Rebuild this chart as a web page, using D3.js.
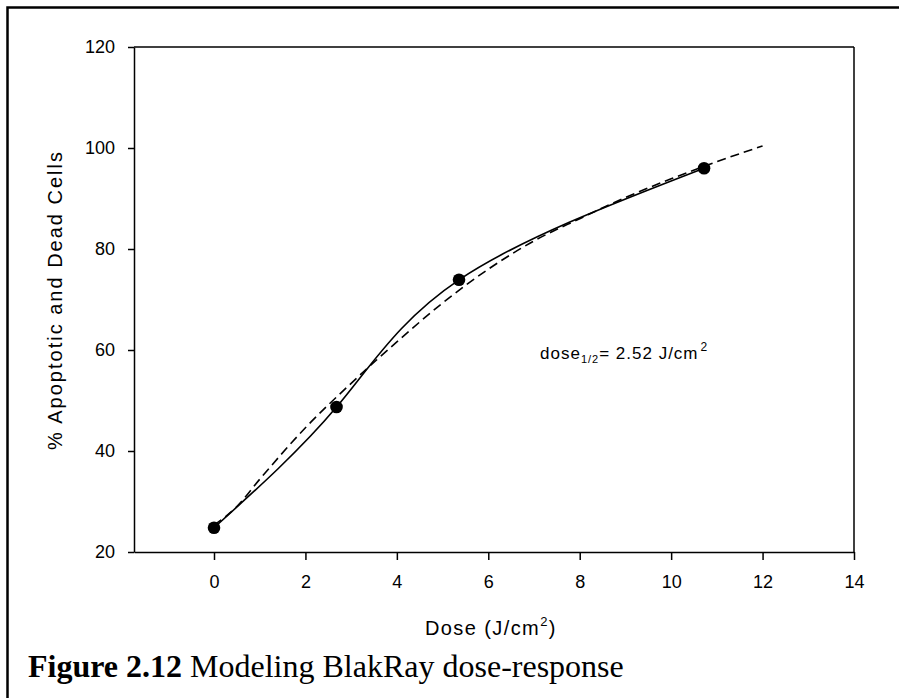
<!DOCTYPE html>
<html><head><meta charset="utf-8">
<script src="https://cdn.jsdelivr.net/npm/d3@7"></script>
<style>body{margin:0;background:#fff} svg{display:block}</style>
</head><body>
<svg id="c" width="899" height="698"></svg>
<script>
// ---- data ----
const doseData = [0, 2.68, 5.36, 10.72];
const responseData = [24.8, 48.7, 73.9, 96.0];
const fitDose = [0, 0.5, 1, 2, 3, 4, 5, 6, 7, 8, 9, 10, 11, 12];
const fitResponse = [25.3, 29.0, 34.4, 44.6, 53.4, 61.6, 69.3, 76.0, 81.6, 86.0, 90.2, 93.9, 97.3, 100.4];
const xTicks = [0, 2, 4, 6, 8, 10, 12, 14];
const yTicks = [20, 40, 60, 80, 100, 120];
const xDomain = [-1.75, 14];
const yDomain = [20, 120];

const svg = d3.select("#c");
const sans = "'Liberation Sans', Arial, sans-serif";
const serif = "'Liberation Serif', 'Times New Roman', serif";

svg.append("rect").attr("width", 899).attr("height", 698).attr("fill", "#fff");
// outer figure border
svg.append("rect").attr("x", 7.5).attr("y", 7.5).attr("width", 1000).attr("height", 1000)
  .attr("fill", "none").attr("stroke", "#000").attr("stroke-width", 2.5);

const L = 134, R = 854, T = 47, B = 552;
const x = d3.scaleLinear().domain(xDomain).range([L, R]);
const y = d3.scaleLinear().domain(yDomain).range([B, T]);

// frame top & right
svg.append("line").attr("x1", L).attr("x2", R).attr("y1", T).attr("y2", T).attr("stroke", "#000").attr("stroke-width", 1.5);
svg.append("line").attr("x1", R).attr("x2", R).attr("y1", T).attr("y2", B).attr("stroke", "#000").attr("stroke-width", 1.5);

const xAxis = svg.append("g").attr("transform", `translate(0,${B})`)
  .call(d3.axisBottom(x).tickValues(xTicks).tickSize(8).tickSizeOuter(0).tickPadding(15).tickFormat(d3.format("d")));
const yAxis = svg.append("g").attr("transform", `translate(${L},0)`)
  .call(d3.axisLeft(y).tickValues(yTicks).tickSize(6).tickSizeOuter(0).tickPadding(13).tickFormat(d3.format("d")));
[xAxis, yAxis].forEach(g => {
  g.selectAll("path, line").attr("stroke", "#000").attr("stroke-width", 1.5);
  g.selectAll("text").attr("font-family", sans).attr("font-size", 18).attr("fill", "#000");
});

// fitted curve (dashed)
const fitPts = fitDose.map((d, i) => [d, fitResponse[i]]);
svg.append("path").datum(fitPts)
  .attr("d", d3.line().x(d => x(d[0])).y(d => y(d[1])).curve(d3.curveMonotoneX))
  .attr("fill", "none").attr("stroke", "#000").attr("stroke-width", 1.6).attr("stroke-dasharray", "9,5");

// data spline (solid)
const pts = doseData.map((d, i) => [d, responseData[i]]);
svg.append("path").datum(pts)
  .attr("d", d3.line().x(d => x(d[0])).y(d => y(d[1])).curve(d3.curveNatural))
  .attr("fill", "none").attr("stroke", "#000").attr("stroke-width", 1.6);

svg.selectAll("circle.pt").data(pts).enter().append("circle")
  .attr("cx", d => x(d[0])).attr("cy", d => y(d[1])).attr("r", 6.3).attr("fill", "#000");

// axis titles
const xt = svg.append("text").attr("x", 425).attr("y", 635)
  .attr("font-family", sans).attr("font-size", 20).attr("letter-spacing", 1.4).attr("fill", "#000");
xt.append("tspan").text("Dose (J/cm");
xt.append("tspan").attr("font-size", 13).attr("dy", -9).text("2");
xt.append("tspan").attr("dy", 9).text(")");

svg.append("text").attr("transform", "translate(62,301) rotate(-90)")
  .attr("text-anchor", "middle").attr("font-family", sans).attr("font-size", 20)
  .attr("textLength", 298).attr("lengthAdjust", "spacing")
  .attr("fill", "#000").text("% Apoptotic and Dead Cells");

// annotation
const an = svg.append("text").attr("x", 540).attr("y", 359)
  .attr("font-family", sans).attr("font-size", 17).attr("letter-spacing", 1).attr("fill", "#000");
an.append("tspan").text("dose");
an.append("tspan").attr("font-size", 11).attr("dy", 4).text("1/2");
an.append("tspan").attr("dy", -4).text("= 2.52 J/cm");
an.append("tspan").attr("font-size", 12).attr("dy", -8).attr("dx", 2).text("2");

// caption
const cap = svg.append("text").attr("x", 28).attr("y", 677)
  .attr("font-family", serif).attr("font-size", 32).attr("fill", "#000");
cap.append("tspan").attr("font-weight", "bold").text("Figure 2.12");
cap.append("tspan").text(" Modeling BlakRay dose-response");
</script>
</body></html>
